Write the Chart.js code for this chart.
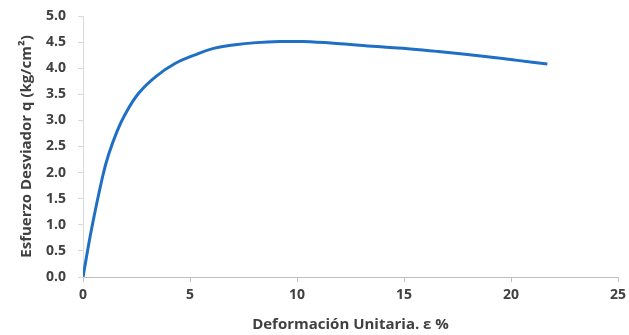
<!DOCTYPE html>
<html>
<head>
<meta charset="utf-8">
<script src="https://cdn.jsdelivr.net/npm/chart.js@4"></script>
<style>
  html, body { margin: 0; padding: 0; background: #fff; }
  #wrap { width: 629px; height: 335px; }
</style>
</head>
<body>
<div id="wrap"><canvas id="curve"></canvas></div>
<script>
// strain (%) and deviator stress (kg/cm2)
const strain = [0, 0.4, 0.92, 1.2, 1.6, 1.97, 2.6, 3.4, 4.3, 5.2, 6.1, 7.1, 8.1, 9.2, 10.3, 12.0, 13.9, 15.3, 16.6, 18.9, 20.3, 21.7];
const stress = [0, 0.92, 1.93, 2.35, 2.8, 3.12, 3.52, 3.84, 4.09, 4.25, 4.38, 4.45, 4.49, 4.51, 4.51, 4.47, 4.41, 4.37, 4.32, 4.22, 4.15, 4.08];

const xTitle = 'Deformación Unitaria. ε %';
const yTitle = 'Esfuerzo Desviador q (kg/cm²)';

var points = [];
for (let i = 0; i < strain.length; i++) {
  points.push({ x: strain[i], y: stress[i] });
}

const tickFont = { family: 'Open Sans', size: 14, weight: 'bold' };
const titleFont = { family: 'Open Sans', size: 15, weight: 'bold' };
const textColor = '#404040';

const ctx = document.getElementById('curve').getContext('2d');

new Chart(ctx, {
  type: 'scatter',
  data: {
    datasets: [{
      data: points,
      showLine: true,
      borderColor: '#1f6fc5',
      borderWidth: 3,
      pointRadius: 0,
      tension: 0.4,
      fill: false
    }]
  },
  options: {
    responsive: true,
    maintainAspectRatio: false,
    animation: false,
    layout: { padding: { top: 16, left: 18, right: 11, bottom: 0 } },
    plugins: {
      legend: { display: false },
      tooltip: { enabled: false }
    },
    scales: {
      x: {
        type: 'linear',
        min: 0,
        max: 25,
        ticks: { stepSize: 5, color: textColor, font: tickFont, padding: 5 },
        grid: { drawOnChartArea: false, tickLength: 5, color: '#bfbfbf' },
        border: { color: '#bfbfbf', width: 1 },
        title: { display: true, text: xTitle, color: textColor, font: titleFont, padding: { top: 0, bottom: 1 } },
        afterFit: (scale) => {
          scale.height = 58;
          scale.paddingLeft = 0;
          scale.paddingRight = 0;
        }
      },
      y: {
        min: 0,
        max: 5,
        ticks: {
          stepSize: 0.5,
          color: textColor,
          font: tickFont,
          padding: 12,
          callback: (v) => v.toFixed(1)
        },
        grid: { drawOnChartArea: false, tickLength: 5, color: '#d9d9d9' },
        border: { color: '#d9d9d9', width: 1 },
        title: { display: true, text: yTitle, color: textColor, font: titleFont, padding: 0 },
        afterFit: (scale) => {
          scale.width = 65;
          scale.paddingTop = 0;
          scale.paddingBottom = 0;
        }
      }
    }
  }
});
</script>
</body>
</html>
